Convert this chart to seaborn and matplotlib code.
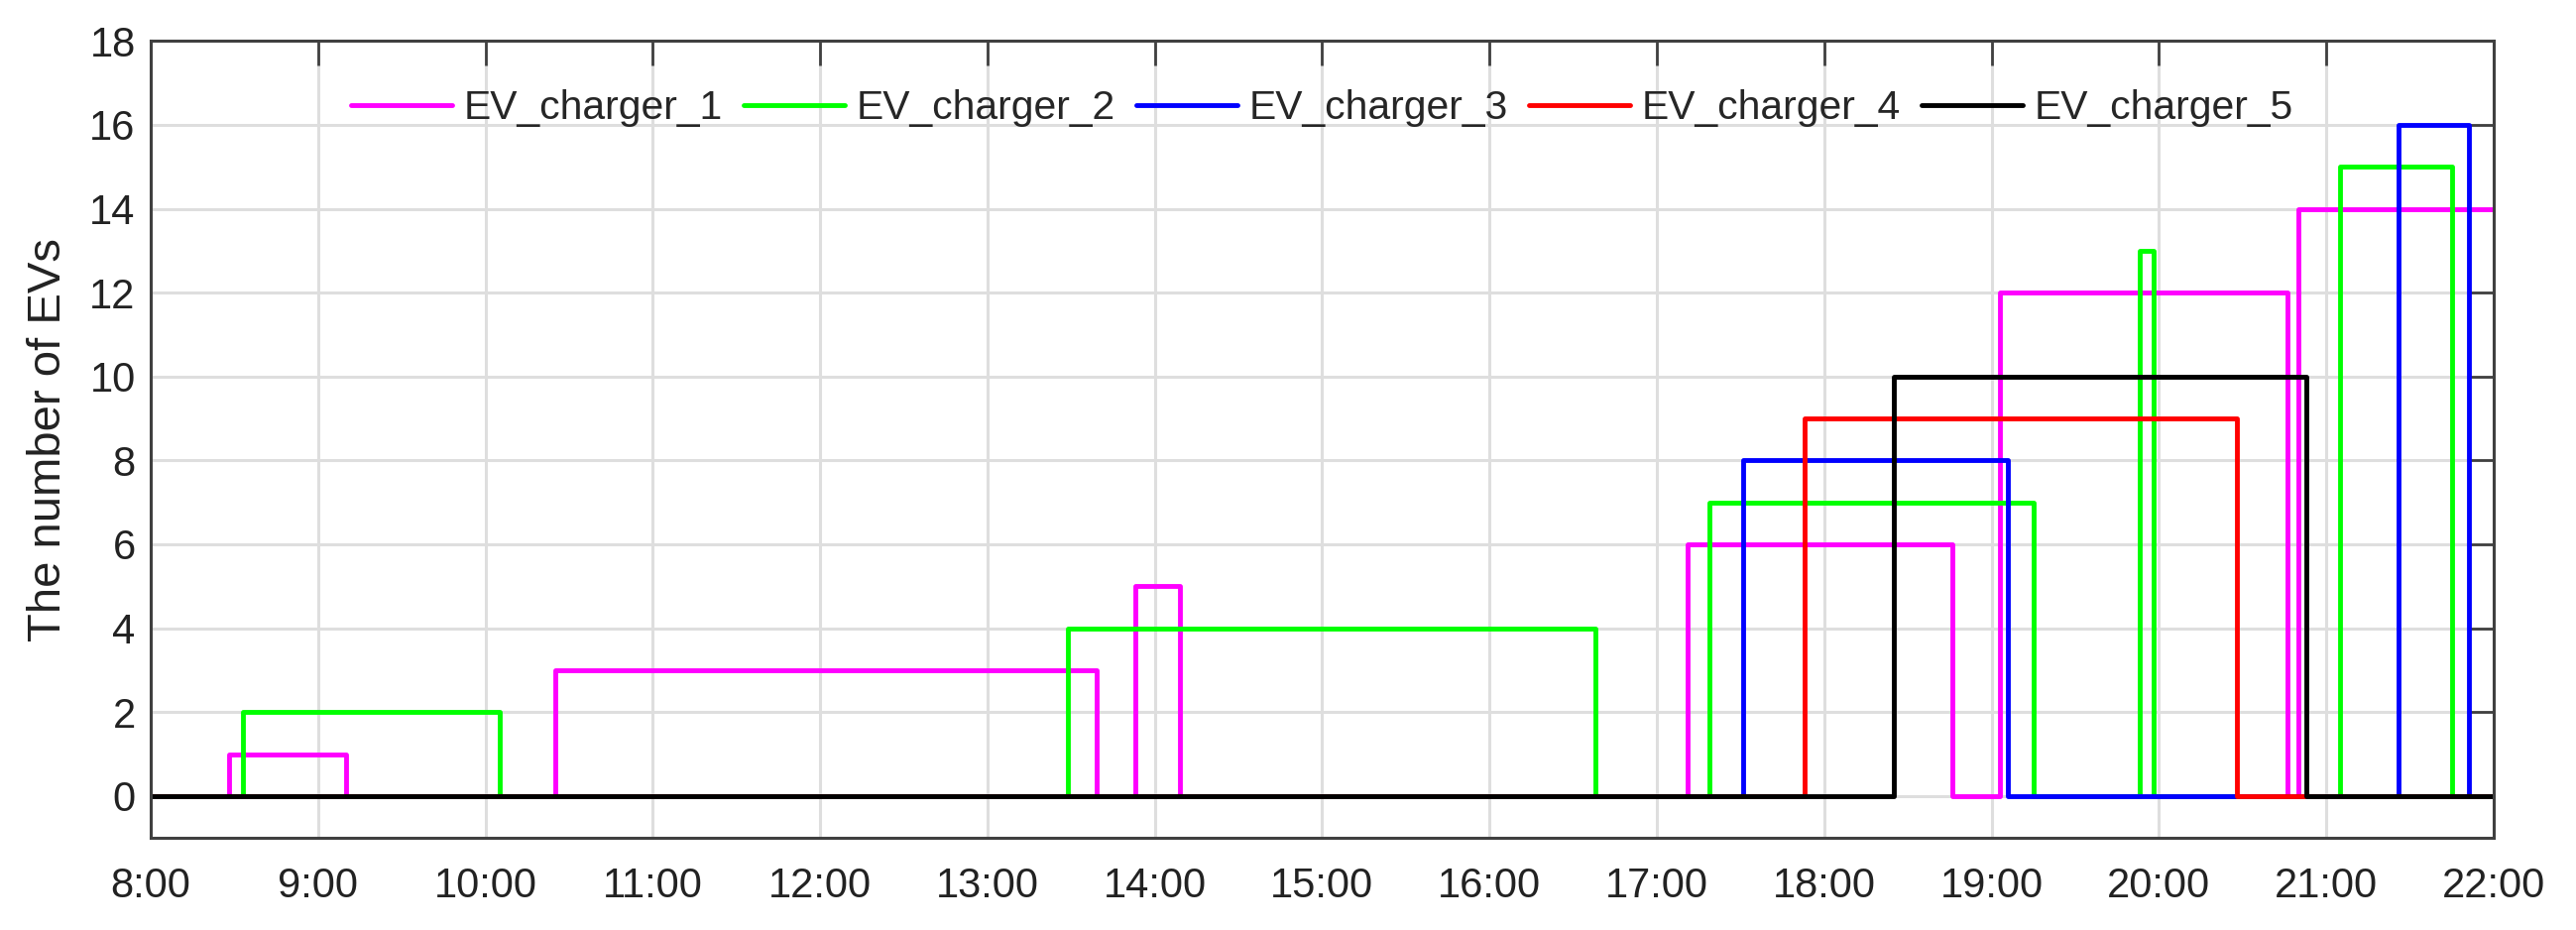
import numpy as np
import pandas as pd
import matplotlib
matplotlib.use("Agg")
import matplotlib.pyplot as plt
import seaborn as sns

# switching times (HH:MM) and the value held from that time on
t1 = ["08:00", "08:28", "09:10", "10:25", "13:39", "13:53", "14:09", "17:11", "18:46", "19:03", "20:46", "20:50", "22:00"]
v1 = [0, 1, 0, 3, 0, 5, 0, 6, 0, 12, 0, 14, 14]
t2 = ["08:00", "08:33", "10:05", "13:29", "16:38", "17:19", "19:15", "19:53", "19:58", "21:05", "21:45", "22:00"]
v2 = [0, 2, 0, 4, 0, 7, 0, 13, 0, 15, 0, 0]
t3 = ["08:00", "17:31", "19:06", "21:26", "21:51", "22:00"]
v3 = [0, 8, 0, 16, 0, 0]
t4 = ["08:00", "17:53", "20:28", "22:00"]
v4 = [0, 9, 0, 0]
t5 = ["08:00", "18:25", "20:53", "22:00"]
v5 = [0, 10, 0, 0]

names = ["EV_charger_1", "EV_charger_2", "EV_charger_3", "EV_charger_4", "EV_charger_5"]
colors = ["#ff00ff", "#00ff00", "#0000ff", "#ff0000", "#000000"]
hour_ticks = list(range(8, 23))
hour_labels = [f"{h}:00" for h in hour_ticks]


def to_hours(ts):
    return [int(s[:2]) + int(s[3:]) / 60 for s in ts]


rows = []
for name, ts, vs in zip(names, [t1, t2, t3, t4, t5], [v1, v2, v3, v4, v5]):
    for h, v in zip(to_hours(ts), vs):
        rows.append((name, h, v))
df = pd.DataFrame(rows, columns=["charger", "hour", "evs"])

sns.set_style("white")
plt.rcParams["font.family"] = ["Liberation Sans", "DejaVu Sans"]

fig = plt.figure(figsize=(25.98, 9.38), dpi=100)
ax = fig.add_axes([0.0585, 0.099, 0.9095, 0.857])

sns.lineplot(data=df, x="hour", y="evs", hue="charger", hue_order=names,
             palette=colors, drawstyle="steps-post", linewidth=3.5,
             estimator=None, ax=ax)

ax.set_xlim(8, 22)
ax.set_ylim(-1, 18)
ax.set_xticks(hour_ticks)
ax.set_xticklabels(hour_labels)
ax.set_yticks(range(0, 19, 2))
ax.grid(True, color="#dedede", linewidth=2.2)
ax.set_axisbelow(True)
ax.tick_params(direction="in", length=18, width=2.0, top=True, right=True,
               labelsize=30, color="#404040", labelcolor="#222222")
ax.tick_params(axis="x", pad=21)
ax.tick_params(axis="y", pad=11)
for sp in ax.spines.values():
    sp.set_color("#404040")
    sp.set_linewidth(2.2)

ax.set_xlabel("")
ax.set_ylabel("The number of EVs", fontsize=34, color="#222222", labelpad=14)

h, l = ax.get_legend_handles_labels()
ax.legend(h, l, ncol=5, loc="upper center", bbox_to_anchor=(0.5, 0.985),
          frameon=False, fontsize=29.4, handlelength=2.5, handletextpad=0.3,
          columnspacing=0.5)

fig.savefig("out.png", dpi=100)
